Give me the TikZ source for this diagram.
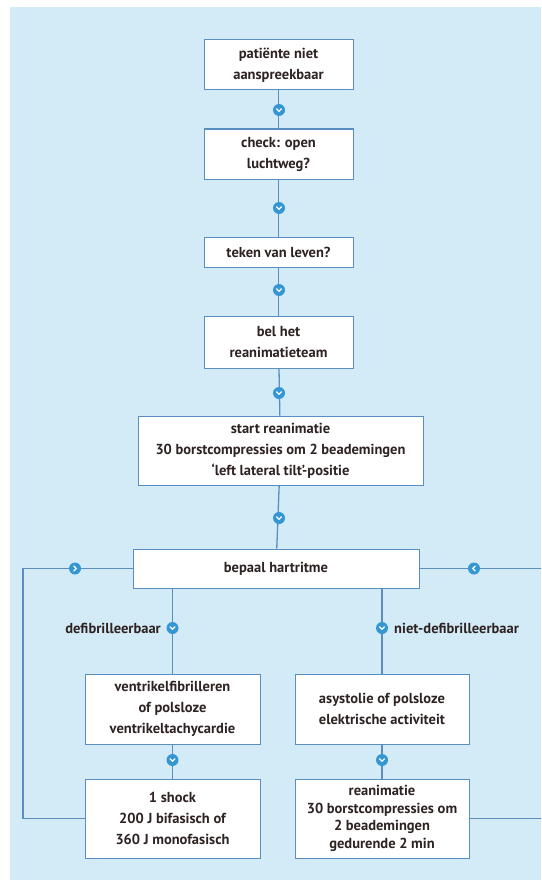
\documentclass[tikz,border=0pt]{standalone}
\usepackage{fontspec}
\setmainfont{PT Sans}
\begin{document}
\begin{tikzpicture}[x=1pt,y=-1pt,
  box/.style={draw=boxblue,line width=1pt,fill=white,align=center,inner sep=0pt,
    font=\bfseries\fontsize{14.5}{21}\selectfont,text=txt},
  conn/.style={draw=lineblue,line width=1.3pt},
  lbl/.style={font=\bfseries\fontsize{14.5}{21}\selectfont,text=txt,inner sep=0pt},
  mk/.style={circle,fill=markblue,minimum size=12pt,inner sep=0pt},
  mkdown/.style={mk,path picture={\draw[white,line width=1.3pt,line cap=round,line join=round]
     ([shift={(-2.5pt,1.2pt)}]path picture bounding box.center) -- ++(2.5pt,-2.5pt) -- ++(2.5pt,2.5pt);}},
  mkright/.style={mk,path picture={\draw[white,line width=1.3pt,line cap=round,line join=round]
     ([shift={(-1.2pt,2.5pt)}]path picture bounding box.center) -- ++(2.5pt,-2.5pt) -- ++(-2.5pt,-2.5pt);}},
  mkleft/.style={mk,path picture={\draw[white,line width=1.3pt,line cap=round,line join=round]
     ([shift={(1.2pt,2.5pt)}]path picture bounding box.center) -- ++(-2.5pt,-2.5pt) -- ++(2.5pt,-2.5pt);}},
]
\definecolor{bg}{HTML}{D3EBF7}
\definecolor{boxblue}{HTML}{5A8EC0}
\definecolor{lineblue}{HTML}{5A8EBE}
\definecolor{markblue}{HTML}{3596D4}
\definecolor{txt}{HTML}{2E2222}
\useasboundingbox (0,0) rectangle (541,880);
\fill[white] (0,0) rectangle (541,880);
\fill[bg] (10,7) rectangle (541,880);

\node[box,minimum width=149pt,minimum height=50pt] (b1) at (278.5,65) {\baselineskip=20pt patiënte niet\\aanspreekbaar};
\node[box,minimum width=149pt,minimum height=50pt] (b2) at (278.5,154) {check: open\\luchtweg?};
\node[box,minimum width=149pt,minimum height=30pt] (b3) at (278.5,252) {teken van leven?};
\node[box,minimum width=149pt,minimum height=52pt] (b4) at (278.5,342) {bel het\\reanimatieteam};
\node[box,minimum width=285pt,minimum height=69pt] (b5) at (280.5,450.5) {start reanimatie\\30 borstcompressies om 2 beademingen\\‘left lateral tilt’-positie};
\node[box,minimum width=286pt,minimum height=39pt] (b6) at (276,568.5) {bepaal hartritme};
\node[box,minimum width=175pt,minimum height=70pt] (b7a) at (172.5,709) {ventrikelfibrilleren\\of polsloze\\ventrikeltachycardie};
\node[box,minimum width=175pt,minimum height=79pt] (b7b) at (172.5,818.5) {1 shock\\200 J bifasisch of\\360 J monofasisch};
\node[box,minimum width=174pt,minimum height=70pt] (b8a) at (382,709) {asystolie of polsloze\\elektrische activiteit};
\node[box,minimum width=174pt,minimum height=79pt,font=\bfseries\fontsize{14.5}{17.5}\selectfont] (b8b) at (382,818.5) {reanimatie\\30 borstcompressies om\\2 beademingen\\gedurende 2 min};

\coordinate (L1) at (23,568.5);
\coordinate (L2) at (23,818.5);
\coordinate (R1) at (541,568.5);
\coordinate (R2) at (541,818.5);

\path[conn] (b1) -- (b2);
\path[conn] (b2) -- (b3);
\path[conn] (b3) -- (b4);
\path[conn] (b4) -- (b5);
\path[conn] (b5) -- (b6);
\path[conn] (b6.south -| b7a) -- (b7a.north);
\path[conn] (b6.south -| b8a) -- (b8a.north);
\path[conn] (b7a) -- (b7b);
\path[conn] (b8a) -- (b8b);
\path[conn] (b7b.west) -- (L2) -- (L1) -- (b6.west);
\path[conn] (b8b.east) -- (R2);
\path[conn] (R1) -- (b6.east);

\node[mkdown] (m1) at (279,110) {};
\node[mkdown] (m2) at (279,208) {};
\node[mkdown] (m3) at (279,290) {};
\node[mkdown] (m4) at (279,393) {};
\node[mkdown] (m5) at (279,518) {};
\node[mkright] (mL) at (75,568.5) {};
\node[mkleft] (mR) at (474,568.5) {};
\node[mkdown] (md1) at (172.5,628) {};
\node[mkdown] (md2) at (382,628) {};
\node[mkdown] (m7) at (172.5,760) {};
\node[mkdown] (m8) at (382,760) {};

\node[lbl,anchor=east] (l1) at (161,628) {defibrilleerbaar};
\node[lbl,anchor=west] (l2) at (394,628) {niet-defibrilleerbaar};
\end{tikzpicture}
\end{document}
